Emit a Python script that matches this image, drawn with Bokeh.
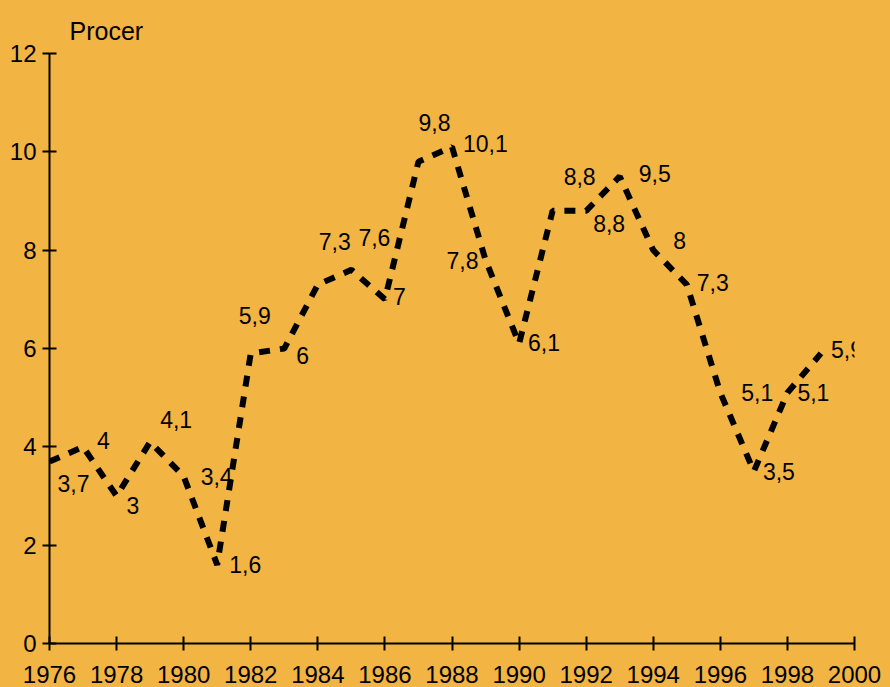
from bokeh.plotting import figure
from bokeh.models import ColumnDataSource, FixedTicker, Range1d
from bokeh.core.properties import value
from bokeh.embed import file_html
from bokeh.resources import INLINE

# ---- data ----
years = list(range(1976, 2000))
values = [3.7, 4, 3, 4.1, 3.4, 1.6, 5.9, 6, 7.3, 7.6, 7, 9.8, 10.1, 7.8,
          6.1, 8.8, 8.8, 9.5, 8, 7.3, 5.1, 3.5, 5.1, 5.9]
labels = [("%g" % v).replace(".", ",") for v in values]
y_ticks = [0, 2, 4, 6, 8, 10, 12]
x_ticks = list(range(1976, 2001, 2))
unit_title = "Procer"

# label placement (screen pixel offsets from each point)
label_dx = [8, 14, 10, 10, 17, 12, -12, 12, 1, 7, 8, 0, 11, -39, 9, 11, 7, 19, 20, 10, 21, 9, 10, 10]
label_dy = [22, -6, 9, -22, 0, 0, -38, 7, -43, -32, -3, -39, -3, 0, -1, -34, 13, -3, -10, -2, 0, 0, 0, -4]

BG = "#F2B443"
FONT = "Liberation Sans"

p = figure(width=890, height=687, output_backend="svg", toolbar_location=None,
           x_range=Range1d(1976, 2000), y_range=Range1d(0, 12),
           min_border_left=49, min_border_right=36, min_border_top=53, min_border_bottom=44)
p.background_fill_color = BG
p.border_fill_color = BG
p.outline_line_color = None
p.grid.visible = False

p.title.text = unit_title
p.title.align = "left"
p.title.offset = 20
p.title.text_font = FONT
p.title.text_font_size = "25px"
p.title.text_font_style = "normal"
p.title.text_color = "black"
p.title.standoff = 14
p.title.vertical_align = "top"

src = ColumnDataSource(dict(x=years, y=values, t=labels, dx=label_dx, dy=label_dy))
p.line("x", "y", source=src, line_color="black", line_width=6, line_dash="11 10", line_cap="butt")
p.text("x", "y", text="t", source=src, x_offset="dx", y_offset="dy",
       text_font=value(FONT), text_font_size="23px", text_color="black",
       text_align="left", text_baseline="middle")

for ax in (p.xaxis[0], p.yaxis[0]):
    ax.axis_line_color = "black"
    ax.axis_line_width = 2
    ax.major_tick_line_color = "black"
    ax.major_tick_line_width = 2
    ax.major_tick_in = 7
    ax.major_tick_out = 7
    ax.minor_tick_line_color = None
    ax.major_label_text_font = FONT
    ax.major_label_text_font_size = "24px"
    ax.major_label_text_color = "black"

p.xaxis[0].ticker = FixedTicker(ticks=x_ticks)
p.yaxis[0].ticker = FixedTicker(ticks=y_ticks)
p.xaxis[0].major_label_standoff = 15
p.yaxis[0].major_label_standoff = 6

template = """{% block postamble %}<style>html,body{margin:0;padding:0;overflow:hidden;background:""" + BG + """;}</style>{% endblock %}"""
open("out.html", "w").write(file_html(p, INLINE, title="chart", template=template))
